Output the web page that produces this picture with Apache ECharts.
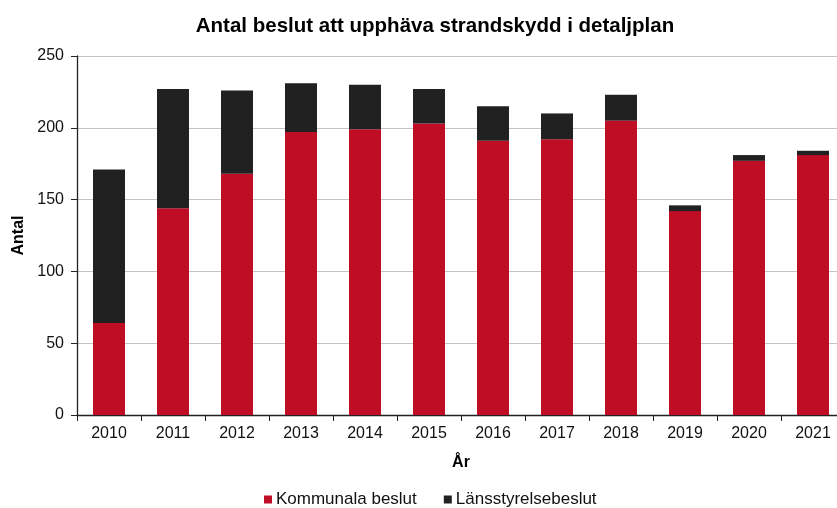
<!DOCTYPE html>
<html>
<head>
<meta charset="utf-8">
<script src="https://cdn.jsdelivr.net/npm/echarts@6/dist/echarts.min.js"></script>
<style>html,body{margin:0;padding:0;background:#fff;overflow:hidden;width:837px;height:508px}#c{width:846px;height:508px}</style>
</head>
<body>
<div id="c"></div>
<script>
const categories = ['2010','2011','2012','2013','2014','2015','2016','2017','2018','2019','2020','2021'];
const kommunala = [64, 144, 168, 197, 199, 203, 191, 192, 205, 142, 177, 181];
const lansstyrelse = [107, 83, 58, 34, 31, 24, 24, 18, 18, 4, 4, 3];
const yTicks = [0, 50, 100, 150, 200, 250];

const font = 'Liberation Sans, Arial, sans-serif';
const chart = echarts.init(document.getElementById('c'), null, {renderer: 'canvas'});
chart.setOption({
  animation: false,
  title: {
    text: 'Antal beslut att upphäva strandskydd i detaljplan',
    left: 430, top: 11, textAlign: 'center',
    textStyle: {fontFamily: font, fontSize: 20.5, fontWeight: 'bold', color: '#000'}
  },
  grid: {left: 77, right: 1, top: 56, bottom: 93, containLabel: false},
  legend: {
    bottom: 0, left: 264, padding: 0, itemWidth: 8, itemHeight: 8, itemGap: 27,
    icon: 'rect',
    textStyle: {fontFamily: font, fontSize: 17, color: '#111', padding: [0, 0, 0, -1]},
    data: ['Kommunala beslut', 'Länsstyrelsebeslut']
  },
  xAxis: {
    type: 'category', data: categories,
    name: 'År', nameLocation: 'middle', nameGap: 40,
    nameTextStyle: {fontFamily: font, fontSize: 16, fontWeight: 'bold', color: '#000'},
    axisLine: {lineStyle: {color: '#222', width: 1.3}},
    axisTick: {show: true, alignWithLabel: false, length: 6, lineStyle: {color: '#222'}},
    axisLabel: {fontFamily: font, fontSize: 16, color: '#111', margin: 11}
  },
  yAxis: {
    type: 'value', min: 0, max: 250, interval: 50,
    name: 'Antal', nameLocation: 'middle', nameGap: 41, nameRotate: 90,
    nameTextStyle: {fontFamily: font, fontSize: 16, fontWeight: 'bold', color: '#000'},
    axisLine: {show: true, lineStyle: {color: '#222', width: 1.3}},
    axisTick: {show: true, length: 6, lineStyle: {color: '#222'}},
    axisLabel: {fontFamily: font, fontSize: 16, color: '#111', margin: 13,
      formatter: v => yTicks.includes(v) ? String(v) : ''},
    splitLine: {lineStyle: {color: '#c4c4c4', width: 1}}
  },
  series: [
    {name: 'Kommunala beslut', type: 'bar', stack: 'a', data: kommunala,
     barCategoryGap: '50%', itemStyle: {color: '#c00d26'}},
    {name: 'Länsstyrelsebeslut', type: 'bar', stack: 'a', data: lansstyrelse,
     barCategoryGap: '50%', itemStyle: {color: '#212121'}}
  ]
});
</script>
</body>
</html>
